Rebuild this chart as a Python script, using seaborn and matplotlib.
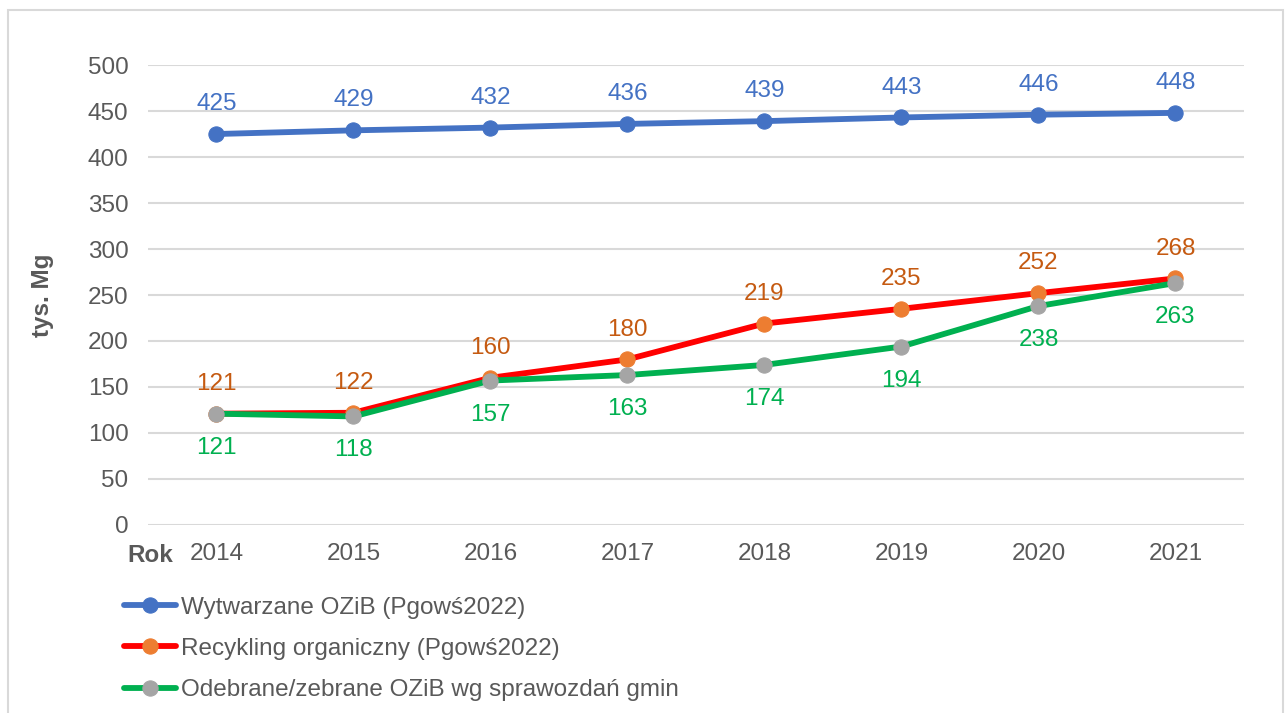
import matplotlib
matplotlib.use("Agg")
import matplotlib.pyplot as plt
import seaborn as sns
import pandas as pd
from matplotlib.patches import Rectangle

years = ["2014", "2015", "2016", "2017", "2018", "2019", "2020", "2021"]
wytwarzane = [425, 429, 432, 436, 439, 443, 446, 448]
recykling = [121, 122, 160, 180, 219, 235, 252, 268]
odebrane = [121, 118, 157, 163, 174, 194, 238, 263]
series_names = ["Wytwarzane OZiB (Pgowś2022)",
                "Recykling organiczny (Pgowś2022)",
                "Odebrane/zebrane OZiB wg sprawozdań gmin"]

sns.set_theme(style="white")
plt.rcParams['font.family'] = ['Liberation Sans', 'DejaVu Sans']

fig = plt.figure(figsize=(12.88, 7.13), dpi=100)
ax = fig.add_axes([0.1149, 0.2637, 0.8509, 0.6451])

line_cols = ["#4472C4", "#FF0000", "#00B050"]
mark_cols = ["#4472C4", "#ED7D31", "#A5A5A5"]
text_cols = ["#4472C4", "#C55A11", "#00B050"]
datas = [wytwarzane, recykling, odebrane]
offsets = [21.5, 21.5, -24.5]
FS = 17.5

for vals, name, lc, mc in zip(datas, series_names, line_cols, mark_cols):
    df = pd.DataFrame({"Rok": years, "val": vals})
    sns.lineplot(data=df, x="Rok", y="val", ax=ax, color=lc, linewidth=4.2,
                 marker="o", markersize=11, markerfacecolor=mc,
                 markeredgecolor=mc, label=name, sort=False)

for vals, tc, off in zip(datas, text_cols, offsets):
    for i, v in enumerate(vals):
        ax.annotate(str(v), (i, v), xytext=(0, off), textcoords="offset points",
                    ha="center", va="center", fontsize=FS, color=tc)

ax.set_ylim(0, 500)
ax.set_xlim(-0.5, len(years) - 0.5)
ax.set_yticks(range(0, 501, 50))
ax.yaxis.grid(True, color="#D9D9D9", linewidth=1.5)
ax.xaxis.grid(False)
for s in ax.spines.values():
    s.set_visible(False)
ax.tick_params(axis="both", length=0, labelsize=FS, colors="#595959")
ax.tick_params(axis="x", pad=13)
ax.tick_params(axis="y", pad=14)
ax.set_xlabel("")
ax.set_ylabel("tys. Mg", fontsize=FS, fontweight="bold", color="#595959", labelpad=24)
fig.text(127/1288, 1-556/713, "Rok", fontsize=FS, fontweight="bold",
         color="#595959", ha="left", va="center")

leg = ax.legend(loc="upper left", bbox_to_anchor=(114/1288, 1-587/713),
                bbox_transform=fig.transFigure, frameon=False, fontsize=FS,
                handlelength=2.15, handletextpad=0.22, labelspacing=0.79,
                borderaxespad=0, labelcolor="#595959")

fig.patches.append(Rectangle((8/1288, -0.05), 1275/1288, 1.05 - 10/713,
                             transform=fig.transFigure, fill=False,
                             edgecolor="#D9D9D9", linewidth=1.5))

fig.savefig("out.png", dpi=100)
